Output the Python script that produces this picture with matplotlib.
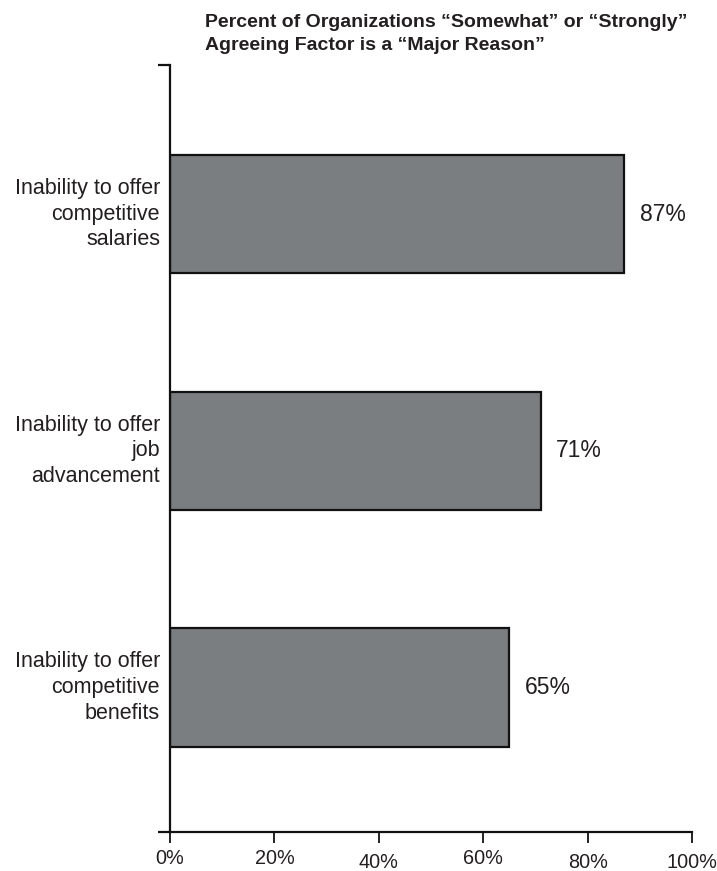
import matplotlib
matplotlib.use("Agg")
import matplotlib.pyplot as plt
from matplotlib.transforms import blended_transform_factory

categories = [
    "Inability to offer\ncompetitive\nsalaries",
    "Inability to offer\njob\nadvancement",
    "Inability to offer\ncompetitive\nbenefits",
]
values = [87, 71, 65]
value_labels = ["87%", "71%", "65%"]
x_ticks = [0, 20, 40, 60, 80, 100]
x_tick_labels = ["0%", "20%", "40%", "60%", "80%", "100%"]

plt.rcParams["font.family"] = ["Liberation Sans", "DejaVu Sans"]
text_color = "#231f20"

fig = plt.figure(figsize=(7.17, 8.71), dpi=100)
ax = fig.add_axes([170 / 717, 1 - 832 / 871, 522 / 717, 767 / 871])

pos = list(range(len(categories)))
ax.barh(pos, values, height=0.5, color="#7a7e81", edgecolor="#111111", linewidth=1.6)

ax.set_xlim(0, 100)
ax.set_ylim(2.61, -0.63)

for s in ("top", "right"):
    ax.spines[s].set_visible(False)
for s in ("left", "bottom"):
    ax.spines[s].set_linewidth(1.6)
    ax.spines[s].set_color("#111111")

ax.set_xticks(x_ticks)
ax.set_xticklabels([])
ax.tick_params(axis="x", direction="out", length=8, width=1.3, color="#111111")
ax.set_yticks([2.61, -0.63])
ax.set_yticklabels([])
ax.tick_params(axis="y", direction="out", length=9, width=1.6, color="#111111")

# staggered tick labels along the x axis
trans = blended_transform_factory(ax.transData, fig.transFigure)
label_y = [858, 858, 862, 858, 862, 862]
for xv, lab, py in zip(x_ticks, x_tick_labels, label_y):
    ax.text(xv, 1 - py / 871, lab, transform=trans, ha="center", va="center",
            fontsize=14.3, color=text_color)

# category labels to the left of the axis
for p, c in zip(pos, categories):
    ax.text(-10 / 5.22, p, c, ha="right", va="center", fontsize=15.5,
            color=text_color, linespacing=1.3)

# value labels next to the bars
for p, v, lab in zip(pos, values, value_labels):
    ax.text(v + 3, p, lab, ha="left", va="center", fontsize=16.5, color=text_color)

fig.text(205 / 717, 1 - 34 / 871,
         "Percent of Organizations \u201cSomewhat\u201d or \u201cStrongly\u201d\nAgreeing Factor is a \u201cMajor Reason\u201d",
         ha="left", va="center", fontsize=14, fontweight="bold", color=text_color,
         linespacing=1.4)

fig.savefig("out.png", dpi=100)
